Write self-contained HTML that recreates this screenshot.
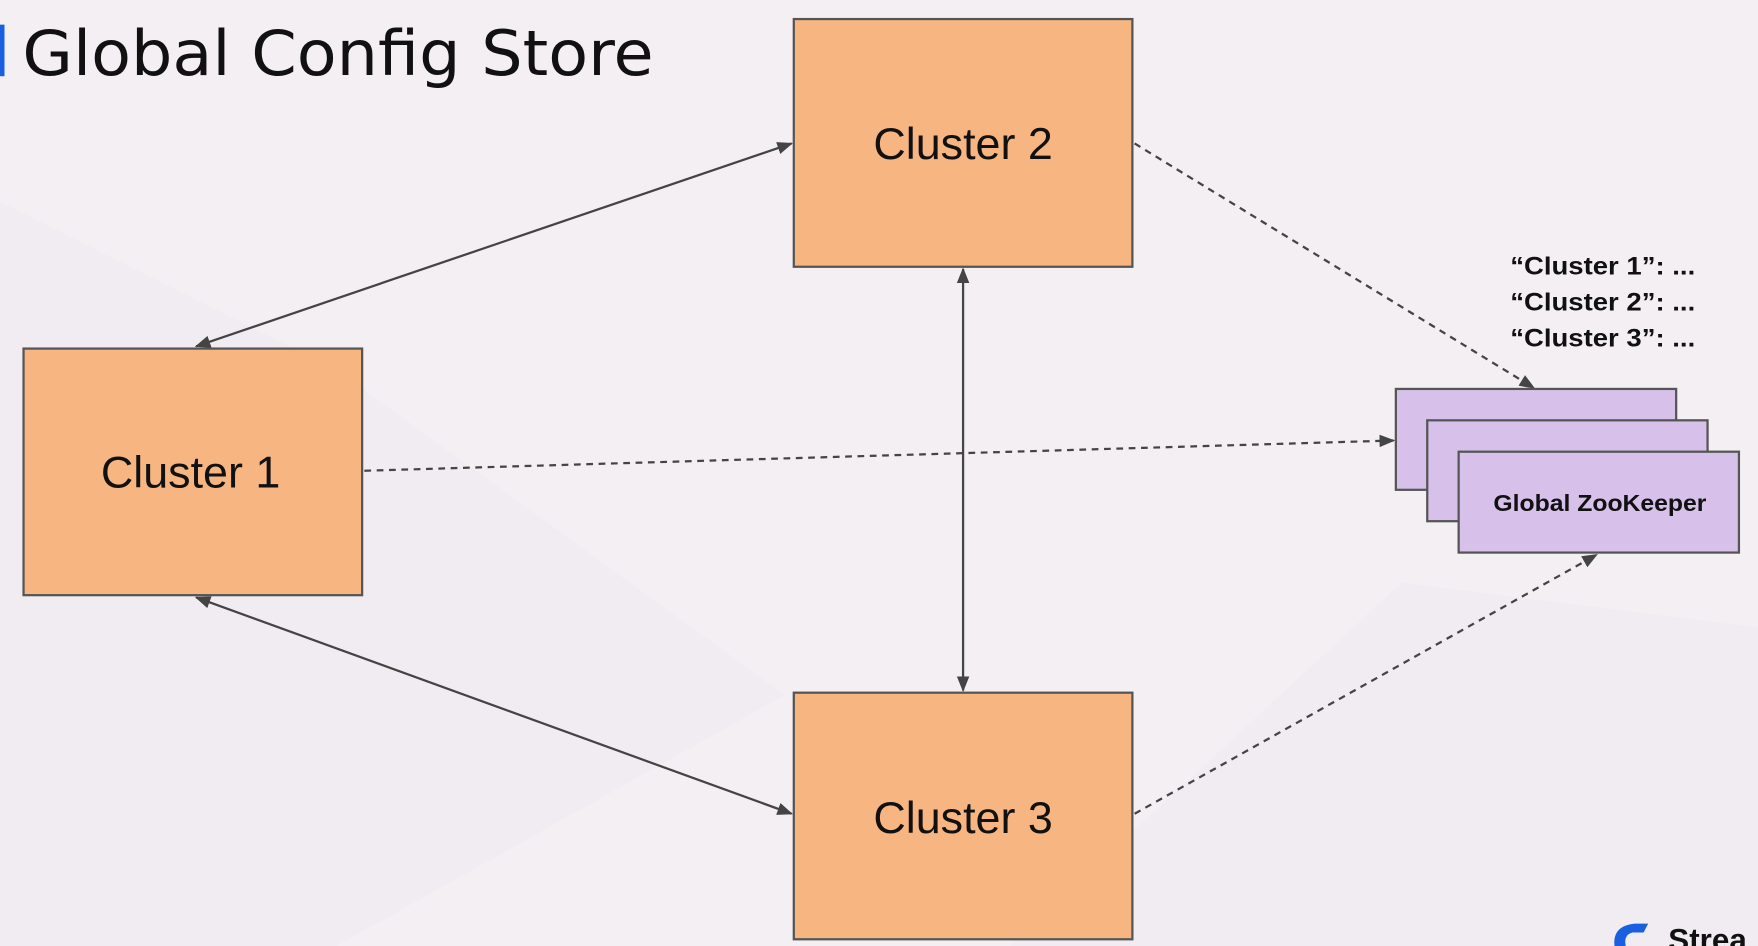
<!DOCTYPE html>
<html><head><style>
html,body{margin:0;padding:0;background:#f3eff3;}
svg{display:block;}
</style></head><body>
<svg width="1758" height="946" viewBox="0 0 1568 844" preserveAspectRatio="none" xmlns="http://www.w3.org/2000/svg">
<defs>
<marker id="a" viewBox="0 0 10 10" refX="9" refY="5" markerWidth="7" markerHeight="7" orient="auto-start-reverse"><path d="M0,1 L10,5 L0,9 z" fill="#444"/></marker>
</defs>
<rect width="1568" height="844" fill="#f3eff3"/>
<polygon points="0,180 300,330 700,620 300,844 0,844" fill="#ece8ed" opacity="0.4"/>
<polygon points="900,844 1250,520 1568,560 1568,844" fill="#ece8ed" opacity="0.4"/>
<rect x="0" y="22" width="4" height="46" fill="#1a5fe0"/>
<text x="20" y="67" font-family="DejaVu Sans, Liberation Sans, sans-serif" font-size="56" font-weight="500" fill="#111" textLength="563" lengthAdjust="spacingAndGlyphs">Global Config Store</text>
<g stroke="#444" stroke-width="2" fill="none">
<line x1="706" y1="128" x2="175" y2="309" marker-start="url(#a)" marker-end="url(#a)"/>
<line x1="175" y1="533" x2="706" y2="726" marker-start="url(#a)" marker-end="url(#a)"/>
<line x1="859" y1="240" x2="859" y2="616" marker-start="url(#a)" marker-end="url(#a)"/>
<g stroke-dasharray="6,5">
<line x1="1012" y1="128" x2="1368" y2="346" marker-end="url(#a)"/>
<line x1="325" y1="420" x2="1243" y2="393" marker-end="url(#a)"/>
<line x1="1012" y1="726" x2="1424" y2="495" marker-end="url(#a)"/>
</g>
</g>
<g fill="#f7b581" stroke="#555" stroke-width="2">
<rect x="708" y="17" width="302" height="221"/>
<rect x="21" y="311" width="302" height="220"/>
<rect x="708" y="618" width="302" height="220"/>
</g>
<g font-family="Liberation Sans, sans-serif" font-size="40" font-weight="500" fill="#111" text-anchor="middle">
<text x="859" y="142">Cluster 2</text>
<text x="170" y="435">Cluster 1</text>
<text x="859" y="743">Cluster 3</text>
</g>
<g fill="#d7c0ea" stroke="#555" stroke-width="2">
<rect x="1245" y="347" width="250" height="90"/>
<rect x="1273" y="375" width="250" height="90"/>
<rect x="1301" y="403" width="250" height="90"/>
</g>
<text x="1332" y="456" font-family="Liberation Sans, sans-serif" font-size="21" font-weight="bold" fill="#111" textLength="190" lengthAdjust="spacingAndGlyphs">Global ZooKeeper</text>
<g font-family="Liberation Sans, sans-serif" font-size="22" font-weight="bold" fill="#111">
<text x="1347" y="245" textLength="165" lengthAdjust="spacingAndGlyphs">“Cluster 1”: ...</text>
<text x="1347" y="277" textLength="165" lengthAdjust="spacingAndGlyphs">“Cluster 2”: ...</text>
<text x="1347" y="309" textLength="165" lengthAdjust="spacingAndGlyphs">“Cluster 3”: ...</text>
</g>
<path d="M1440,844 Q1438,826 1458,824 L1470,824 L1466,832 L1456,832 Q1448,834 1450,844 z" fill="#1a5fe0"/>
<text x="1488" y="848" font-family="Liberation Sans, sans-serif" font-weight="bold" font-size="28" fill="#111">Strea</text>
</svg>
</body></html>
